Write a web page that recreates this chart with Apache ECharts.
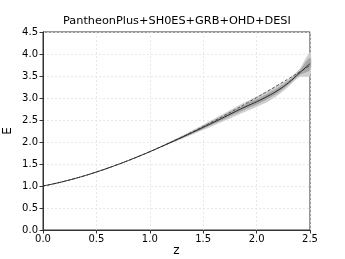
<!DOCTYPE html>
<html>
<head>
<meta charset="utf-8">
<script src="https://cdn.jsdelivr.net/npm/echarts@6/dist/echarts.min.js"></script>
<style>html,body{margin:0;padding:0;background:#fff}#c{width:345px;height:259px}</style>
</head>
<body>
<div id="c"></div>
<script>
const z = [0,0.1,0.2,0.3,0.4,0.5,0.6,0.7,0.8,0.9,1.0,1.1,1.2,1.3,1.4,1.5,1.6,1.7,1.8,1.9,2.0,2.1,2.2,2.3,2.4,2.5];
const Emean = [1.000,1.050,1.107,1.171,1.241,1.318,1.400,1.488,1.580,1.678,1.780,1.886,1.995,2.105,2.218,2.333,2.450,2.568,2.690,2.805,2.915,3.035,3.175,3.350,3.565,3.780];
const Eref = [1.000,1.050,1.107,1.171,1.241,1.318,1.400,1.488,1.580,1.678,1.780,1.887,1.998,2.112,2.231,2.352,2.478,2.606,2.738,2.872,3.010,3.150,3.294,3.440,3.588,3.739];
const lo1 = [1.000,1.050,1.107,1.171,1.241,1.318,1.400,1.488,1.580,1.677,1.777,1.880,1.982,2.087,2.193,2.301,2.412,2.524,2.640,2.750,2.855,2.972,3.118,3.305,3.515,3.640];
const hi1 = [1.000,1.050,1.107,1.171,1.241,1.318,1.400,1.488,1.580,1.679,1.783,1.892,2.008,2.123,2.243,2.365,2.488,2.612,2.740,2.860,2.975,3.098,3.232,3.395,3.615,3.920];
const lo2 = [1.000,1.050,1.107,1.171,1.241,1.318,1.400,1.488,1.580,1.676,1.774,1.874,1.970,2.070,2.170,2.272,2.377,2.483,2.592,2.696,2.796,2.910,3.062,3.262,3.470,3.510];
const hi2 = [1.000,1.050,1.107,1.171,1.241,1.318,1.400,1.488,1.580,1.680,1.786,1.898,2.020,2.140,2.266,2.394,2.523,2.653,2.788,2.914,3.034,3.160,3.288,3.438,3.660,4.030];
const xTicks = [0,0.5,1.0,1.5,2.0,2.5];
const yTicks = [0,0.5,1.0,1.5,2.0,2.5,3.0,3.5,4.0,4.5];

function bandSeries(lo, hi, color) {
  return {
    type: 'custom',
    coordinateSystem: 'cartesian2d',
    silent: true,
    z: 1,
    data: [0],
    renderItem: function (params, api) {
      const pts = [];
      for (let i = 0; i < z.length; i++) pts.push(api.coord([z[i], hi[i]]));
      for (let i = z.length - 1; i >= 0; i--) pts.push(api.coord([z[i], lo[i]]));
      return { type: 'polygon', shape: { points: pts, smooth: 0.3 }, style: { fill: color } };
    }
  };
}

const chart = echarts.init(document.getElementById('c'), null, { renderer: 'canvas' });
const font = 'DejaVu Sans';
chart.setOption({
  animation: false,
  title: {
    text: 'PantheonPlus+SH0ES+GRB+OHD+DESI',
    left: 63, top: 16, padding: 0,
    textStyle: { fontFamily: font, fontSize: 11.3, fontWeight: 'normal', color: '#000' }
  },
  grid: { left: 43, right: 35, top: 32, bottom: 29, containLabel: false, outerBoundsMode: 'none',
    show: true, borderColor: '#333', borderWidth: 1 },
  xAxis: {
    type: 'value', min: 0, max: 2.5, interval: 0.5,
    name: 'z', nameLocation: 'middle', nameGap: 15, nameMoveOverlap: false,
    nameTextStyle: { fontFamily: font, fontSize: 12, color: '#000' },
    axisLine: { lineStyle: { color: '#333', width: 1 } },
    axisTick: { show: true, length: 3.5, lineStyle: { color: '#333' } },
    axisLabel: { fontFamily: font, fontSize: 10, color: '#000', margin: 4,
      formatter: v => v.toFixed(1) },
    splitLine: { show: true, lineStyle: { color: '#e3e3e3', type: [2, 2], width: 0.8 } }
  },
  yAxis: {
    type: 'value', min: 0, max: 4.5, interval: 0.5,
    name: 'E', nameLocation: 'middle', nameGap: 29, nameRotate: 90, nameMoveOverlap: false,
    nameTextStyle: { fontFamily: font, fontSize: 12, color: '#000' },
    axisLine: { lineStyle: { color: '#333', width: 1 } },
    axisTick: { show: true, length: 3.5, lineStyle: { color: '#333' } },
    axisLabel: { fontFamily: font, fontSize: 10, color: '#000', margin: 5,
      formatter: v => v.toFixed(1) },
    splitLine: { show: true, lineStyle: { color: '#e3e3e3', type: [2, 2], width: 0.8 } }
  },
  series: [
    bandSeries(lo2, hi2, '#cfcfcf'),
    bandSeries(lo1, hi1, '#a6a6a6'),
    {
      type: 'line', z: 3, showSymbol: false, smooth: true,
      data: z.map((v, i) => [v, Eref[i]]),
      lineStyle: { color: '#444', width: 0.9, type: [3, 2] }
    },
    {
      type: 'line', z: 4, showSymbol: false, smooth: true,
      data: z.map((v, i) => [v, Emean[i]]),
      lineStyle: { color: '#2a2a2a', width: 1 }
    }
  ]
});
</script>
</body>
</html>
